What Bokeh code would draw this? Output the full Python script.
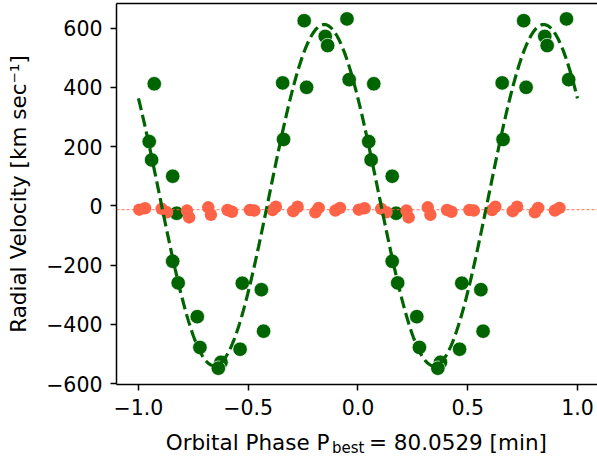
import numpy as np
from bokeh.plotting import figure
from bokeh.layouts import column
from bokeh.core.properties import value
from bokeh.models import (Range1d, FixedTicker, LinearAxis, Span,
                          ColumnDataSource, CustomJSTickFormatter)
from bokeh.embed import file_html
from bokeh.resources import INLINE

# Primary component radial velocities, folded on the best period (phase in [0, 1))
phase_a = [0.072, 0.049, 0.060, 0.156, 0.174, 0.657, 0.661, 0.755, 0.766, 0.851,
           0.862, 0.950, 0.960, 0.156, 0.181, 0.268, 0.280, 0.376, 0.364, 0.473,
           0.560, 0.570, 0.463]
rv_a = [412, 217, 155, 100, -25, 415, 224, 625, 400, 572,
        541, 631, 426, -187, -260, -374, -478, -528, -548, -261,
        -283, -423, -484]

# Secondary component radial velocities
phase_b = [0.004, 0.030, 0.106, 0.130, 0.221, 0.231, 0.318, 0.330, 0.406, 0.426,
           0.508, 0.528, 0.611, 0.626, 0.705, 0.725, 0.806, 0.821, 0.897, 0.918]
rv_b = [-13, -8, -10, -22, -16, -39, -5, -30, -14, -20,
        -14, -16, -14, -3, -18, -3, -22, -7, -16, -7]

# Sinusoidal orbit fit of the primary, and the mean level of the secondary
gamma_a = 36.0
k_a = 576.0
phase_max_a = 0.846
level_b = -13.0

x_ticks = [-1.0, -0.5, 0.0, 0.5, 1.0]
y_ticks = [-600, -400, -200, 0, 200, 400, 600]

GREEN = "#006400"
RED = "#ff6347"
FONT = "DejaVu Sans"

X0, X1 = -1.1, 1.0913
Y0, Y1 = -603.0, 683.0
LEFT = 116
FRAME_W = 481.0

# two cycles: phase - 1 and phase
pa = np.asarray(phase_a)
pb = np.asarray(phase_b)
src_a = ColumnDataSource(dict(x=np.concatenate([pa - 1, pa]),
                              y=np.concatenate([rv_a, rv_a])))
src_b = ColumnDataSource(dict(x=np.concatenate([pb - 1, pb]),
                              y=np.concatenate([rv_b, rv_b])))

phi = np.linspace(-1.0, 1.0, 600)
fit = gamma_a + k_a * np.cos(2 * np.pi * (phi - phase_max_a))

x_range = Range1d(X0, X1)
p = figure(width=597, height=424,
           x_range=x_range, y_range=Range1d(Y0, Y1),
           output_backend="svg", toolbar_location=None,
           min_border_left=LEFT, min_border_right=0,
           min_border_top=3, min_border_bottom=40)
p.xgrid.visible = False
p.ygrid.visible = False
p.outline_line_color = None
p.background_fill_color = "white"
p.border_fill_color = "white"

p.add_layout(Span(location=level_b, dimension="width", line_color=RED,
                  line_width=0.9, line_dash="3 2"))
p.scatter("x", "y", source=src_a, size=14.5, fill_color=GREEN,
          line_color="white", line_width=0.7)
p.scatter("x", "y", source=src_b, size=12.5, fill_color=RED, line_color=RED,
          line_width=0)
p.line(phi, fit, line_color=GREEN, line_width=3.2, line_dash="12 5")

for ax in (p.xaxis[0], p.yaxis[0]):
    ax.axis_line_width = 1.5
    ax.axis_line_color = "black"
    ax.major_tick_line_width = 1.5
    ax.major_tick_line_color = "black"
    ax.major_tick_out = 6
    ax.major_tick_in = 0
    ax.minor_tick_line_color = None
    ax.major_label_text_font = FONT
    ax.major_label_text_font_size = "20.5px"
    ax.major_label_text_color = "black"
    ax.major_label_standoff = 8

p.xaxis.ticker = FixedTicker(ticks=x_ticks)
p.yaxis.ticker = FixedTicker(ticks=y_ticks)
p.xaxis.formatter = CustomJSTickFormatter(
    code="return tick.toFixed(1).replace('-', '\u2212')")
p.yaxis.formatter = CustomJSTickFormatter(
    code="return tick.toFixed(0).replace('-', '\u2212')")

p.yaxis.axis_label = "Radial Velocity [km sec\u207b\u00b9]"
p.yaxis.axis_label_text_font = FONT
p.yaxis.axis_label_text_font_size = "21.5px"
p.yaxis.axis_label_text_font_style = "normal"
p.yaxis.axis_label_text_color = "black"
p.yaxis.axis_label_standoff = 12

# top spine
top = LinearAxis(ticker=FixedTicker(ticks=[]), major_tick_out=0, major_tick_in=0,
                 minor_tick_out=0, minor_tick_in=0, major_label_standoff=0,
                 axis_line_width=1.5, axis_line_color="black")
p.add_layout(top, "above")

# strip under the plot carrying the x axis title with its subscript;
# y runs in pixels from the strip's top edge
STRIP_H = 36
strip = figure(width=597, height=STRIP_H, x_range=x_range,
               y_range=Range1d(STRIP_H, 0),
               output_backend="svg", toolbar_location=None,
               min_border_left=LEFT, min_border_right=0,
               min_border_top=0, min_border_bottom=0)
strip.axis.visible = False
strip.xgrid.visible = False
strip.ygrid.visible = False
strip.outline_line_color = None
strip.background_fill_color = "white"
strip.border_fill_color = "white"


def px_x(canvas_x):
    return X0 + (canvas_x - LEFT) * (X1 - X0) / FRAME_W


for cx, cy, txt, size, align in [(329.0, 18.0, "Orbital Phase P", "21.5px", "right"),
                                 (331.5, 23.5, "best", "15px", "left"),
                                 (368.5, 18.0, "= 80.0529 [min]", "21.5px", "left")]:
    strip.text(x=[px_x(cx)], y=[cy], text=[txt], text_align=align,
               text_baseline="alphabetic", text_font=value(FONT),
               text_font_size=size, text_color="black")

layout = column(p, strip, spacing=0)
open("out.html", "w").write(file_html(layout, INLINE))
